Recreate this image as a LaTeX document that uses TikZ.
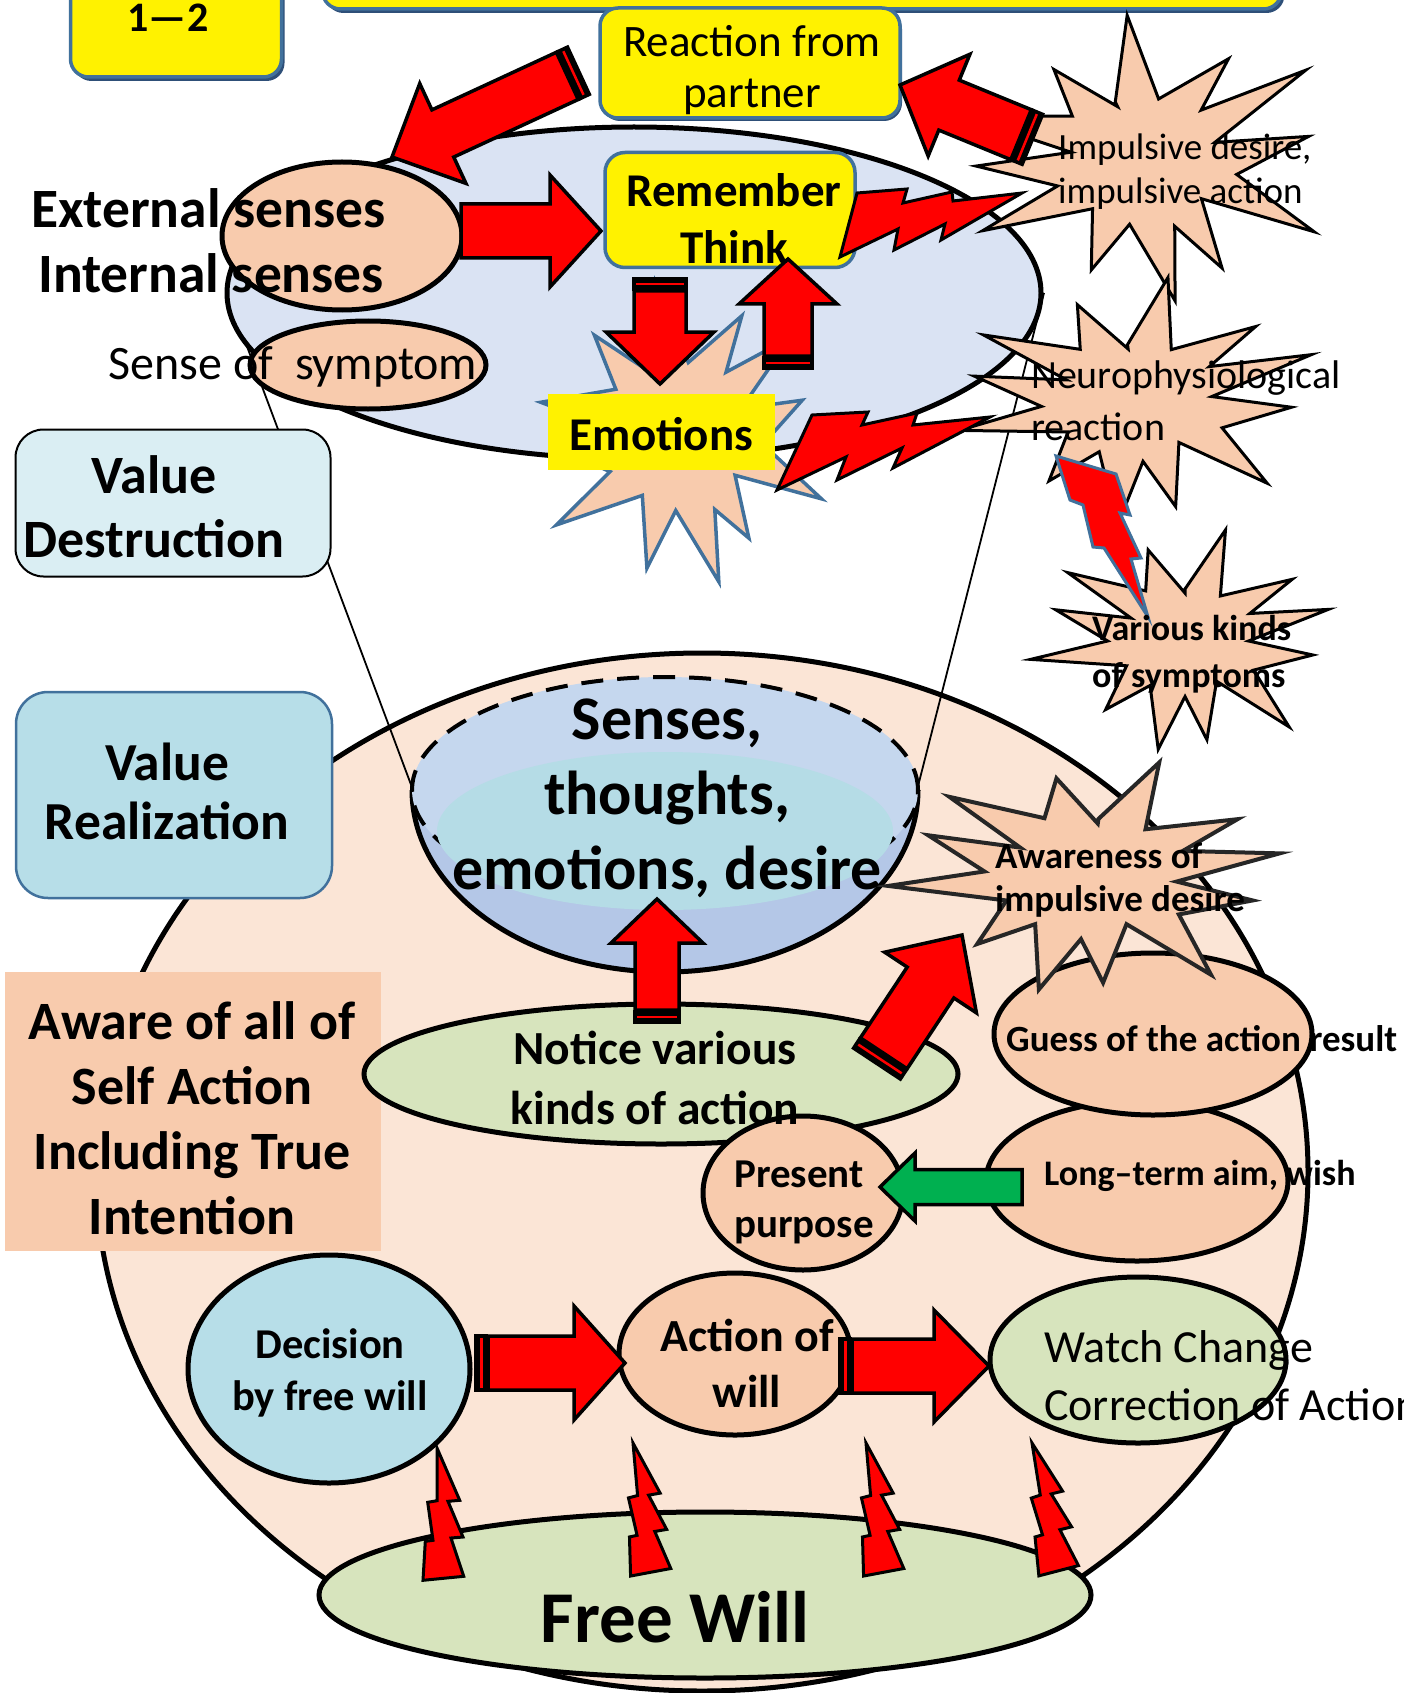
\documentclass[tikz,border=0pt]{standalone}
\usepackage{fontspec}
\setmainfont{Carlito}
\usetikzlibrary{shapes.geometric}

\definecolor{peach}{HTML}{F8CBAD}
\definecolor{lpeach}{HTML}{FBE5D6}
\definecolor{skyfill}{HTML}{DAE3F3}
\definecolor{bordblue}{HTML}{41719C}
\definecolor{shadowblue}{HTML}{2E4F78}
\definecolor{leaf}{HTML}{D7E4BD}
\definecolor{aqua}{HTML}{B7DEE8}
\definecolor{paleaqua}{HTML}{DAEEF3}
\definecolor{bowlc}{HTML}{B4C7E7}
\definecolor{bowltop}{HTML}{C5D7EE}
\definecolor{bowlin}{HTML}{B5DCE6}
\definecolor{grass}{HTML}{00B050}
\definecolor{darkline}{HTML}{262626}

\makeatletter
% length and direction between two named points, in canvas units
\newcommand\ba@setup[2]{%
  \pgfpointdiff{\pgfpointanchor{#1}{center}}{\pgfpointanchor{#2}{center}}%
  \edef\ba@dx{\the\pgf@x}\edef\ba@dy{\the\pgf@y}%
  \pgfmathsetmacro\ba@len{veclen(\ba@dx,\ba@dy)}%
  \pgfmathsetmacro\ba@ang{atan2(\ba@dy,\ba@dx)}}
% plain block arrow: [style]{tail}{tip}{shaft half width}{head half width}{head length}
\newcommand\blockarrow[6][]{%
  \ba@setup{#2}{#3}%
  \begin{scope}[shift={(#2)},rotate=\ba@ang,x=1pt,y=1pt]
    \draw[blockarrow,#1] (0,-#4) -- ({\ba@len-#6},-#4) -- ({\ba@len-#6},-#5) -- (\ba@len,0)
      -- ({\ba@len-#6},#5) -- ({\ba@len-#6},#4) -- (0,#4) -- cycle;
  \end{scope}}
% block arrow with a striped tail
\newcommand\stripearrow[6][]{%
  \ba@setup{#2}{#3}%
  \begin{scope}[shift={(#2)},rotate=\ba@ang,x=1pt,y=1pt]
    \draw[blockarrow,#1] (14,-#4) -- ({\ba@len-#6},-#4) -- ({\ba@len-#6},-#5) -- (\ba@len,0)
      -- ({\ba@len-#6},#5) -- ({\ba@len-#6},#4) -- (14,#4) -- cycle;
    \fill[black] (0,{-#4-1.75}) rectangle (14,{#4+1.75});
    \fill[red] (6,{-#4+2}) rectangle (8.5,{#4-2});
  \end{scope}}
\makeatother

% starburst: {style}{cx}{cy}{rx}{ry}{inner factor}{start angle}{points}{outer factors}
\newcommand\burst[9]{%
  \draw[#1] ({#2+#4*#6*cos(#7-180/#8)},{#3+#5*#6*sin(#7-180/#8)})
    \foreach \rad [count=\kk from 0] in {#9} {
      -- ({#2+#4*\rad*cos(#7+\kk*360/#8+7*sin(\kk*97))},{#3+#5*\rad*sin(#7+\kk*360/#8+7*sin(\kk*97))})
      -- ({#2+#4*#6*(1+0.12*sin(\kk*151))*cos(#7+(\kk+0.5)*360/#8)},{#3+#5*#6*(1+0.12*sin(\kk*151))*sin(#7+(\kk+0.5)*360/#8)})
    } -- cycle;}

\begin{document}
\begin{tikzpicture}[x=1pt,y=-1pt,
  oval/.style={ellipse, draw=black, line width=5pt, inner sep=0pt},
  ybox/.style={rounded corners=18pt, fill=yellow, draw=bordblue, line width=3.5pt, inner sep=0pt},
  yshadow/.style={rounded corners=18pt, fill=shadowblue, inner sep=0pt},
  blockarrow/.style={fill=red, draw=black, line width=3.5pt, line join=miter},
  bolt/.style={fill=red, draw=black, line width=3pt, line join=miter},
  burstline/.style={fill=peach, draw=black, line width=3pt, line join=miter},
  txt/.style={inner sep=0pt, align=center},
  thinline/.style={line width=1.8pt}]

\fill[white] (0,0) rectangle (1426,1693);
\useasboundingbox (0,0) rectangle (1426,1693);

% ---------- lower field ----------
\node[oval, fill=lpeach, minimum width=1212pt, minimum height=1038pt] (whole) at (702,1172) {};

% cone linking the upper oval to the lower bowl
\coordinate (conetl) at (227,293);
\coordinate (conetr) at (1044,293);
\coordinate (conebl) at (413,790);
\coordinate (conebr) at (917,790);
\draw[thinline] (conetl) -- (conebl);
\draw[thinline] (conetr) -- (conebr);

\node[fill=aqua, draw=bordblue, line width=2.5pt, rounded corners=32pt,
      minimum width=316pt, minimum height=206pt, inner sep=0pt] (realbox) at (174,795) {};
\node[fill=peach, minimum width=376pt, minimum height=279pt, inner sep=0pt] (awarebox) at (193,1111) {};

% ---------- upper oval ----------
\node[oval, fill=skyfill, minimum width=814pt, minimum height=332pt] (mind) at (634,293) {};

% title boxes
\node[yshadow, minimum width=211pt, minimum height=120pt] at (179,21) {};
\node[ybox, minimum width=211pt, minimum height=120pt] (numbox) at (176,17) {};
\node[yshadow, minimum width=959pt, minimum height=90pt] at (805,-32) {};
\node[ybox, minimum width=959pt, minimum height=90pt] (titlebox) at (802,-36) {};
\node[yshadow, minimum width=300pt, minimum height=110pt] at (752,66) {};
\node[ybox, minimum width=300pt, minimum height=110pt] (reaction) at (750,63) {};

\node[oval, fill=peach, minimum width=240pt, minimum height=148pt] (senseoval) at (342,236) {};
\node[oval, fill=peach, minimum width=236pt, minimum height=88pt] (sympoval) at (368,365) {};

\coordinate (a1s) at (580,70);  \coordinate (a1e) at (392,157);
\stripearrow{a1s}{a1e}{26}{55}{56}
\coordinate (a2s) at (461,231); \coordinate (a2e) at (601,231);
\blockarrow{a2s}{a2e}{27}{56}{51}

% emotions burst
\burst{burstline, draw=bordblue, line width=3.5pt}{682}{437}{132}{136}{0.55}{-100}{12}{1.15,1.0,1.1,0.95,1.15,0.9,1.1,1.0,1.15,0.9,1.1,1.0}

\node[ybox, rounded corners=20pt, minimum width=250pt, minimum height=115pt] (think) at (730,210) {};
\node[fill=yellow, minimum width=227pt, minimum height=76pt, inner sep=0pt] (emotions) at (661.5,432) {};

\coordinate (a3s) at (660,277); \coordinate (a3e) at (660,384);
\stripearrow{a3s}{a3e}{26}{54}{52}
\coordinate (a4s) at (788,370); \coordinate (a4e) at (788,259);
\stripearrow{a4s}{a4e}{24}{49}{45}

% bursts on the right
\burst{burstline}{1144}{162}{168}{128}{0.5}{-95}{12}{1.15,0.95,1.2,1.0,1.15,0.95,1.1,0.9,1.1,1.0,1.15,0.9}
\burst{burstline}{1135}{401}{165}{109}{0.52}{-80}{12}{1.15,1.0,1.15,0.95,1.1,1.0,1.15,0.9,1.1,1.0,1.1,0.95}
\burst{burstline}{1185}{641}{136}{100}{0.52}{-75}{12}{1.15,1.0,1.1,0.95,1.15,1.0,1.1,0.9,1.15,1.0,1.1,0.95}

\coordinate (a5s) at (1034,140); \coordinate (a5e) at (900,85);
\stripearrow{a5s}{a5e}{27}{55}{53}

% lightning strikes
\draw[bolt] (840,257) -- (857,193) -- (907,189) -- (903,203) -- (952,192) -- (953,201) -- (1022,193)
  -- (941,240) -- (945,224) -- (894,250) -- (898,229) -- cycle;
\draw[bolt] (777,490) -- (812,415) -- (868,412) -- (862,425) -- (917,413) -- (913,425) -- (990,417)
  -- (893,468) -- (902,448) -- (837,480) -- (846,457) -- cycle;
\draw[bolt, draw=bordblue] (1056,456) -- (1116,474) -- (1130,515) -- (1120,513) -- (1141,558) -- (1131,559)
  -- (1148,617) -- (1104,548) -- (1093,547) -- (1083,505) -- (1070,500) -- cycle;

\node[fill=paleaqua, draw=black, line width=2pt, rounded corners=28pt,
      minimum width=315pt, minimum height=147pt, inner sep=0pt] (destbox) at (173,503) {};

% ---------- bowl of senses ----------
\fill[bowlc] (412,790) arc[start angle=180, end angle=360, x radius=253pt, y radius=182pt] -- cycle;
\draw[line width=5pt] (412,790) arc[start angle=180, end angle=360, x radius=253pt, y radius=182pt];
\node[ellipse, fill=bowltop, draw=black, line width=4pt, dash pattern=on 22pt off 14pt,
      minimum width=506pt, minimum height=226pt, inner sep=0pt] (senses) at (665,790) {};
\node[ellipse, fill=bowlin, minimum width=456pt, minimum height=158pt, inner sep=0pt] (sensescore) at (665,831) {};

% ---------- lower ovals ----------
\node[oval, fill=leaf, minimum width=594pt, minimum height=140pt] (notice) at (661,1074) {};
\coordinate (a6s) at (657,1024); \coordinate (a6e) at (657,899);
\stripearrow{a6s}{a6e}{22}{46}{44}

\node[oval, fill=peach, minimum width=302pt, minimum height=160pt] (longterm) at (1137,1181) {};
\node[oval, fill=peach, minimum width=318pt, minimum height=162pt] (guess) at (1153,1034) {};
\burst{burstline, draw=darkline, line width=4pt}{1090}{877}{176}{106}{0.55}{-70}{12}{1.15,1.0,1.1,0.95,1.15,1.0,1.1,0.9,1.15,1.0,1.1,0.95}

\coordinate (a7s) at (876,1065); \coordinate (a7e) at (962,935);
\stripearrow{a7s}{a7e}{28}{55}{57}

\node[oval, fill=peach, minimum width=200pt, minimum height=154pt] (present) at (803,1193) {};
\coordinate (a8s) at (1022,1187); \coordinate (a8e) at (880,1187);
\blockarrow[fill=grass]{a8s}{a8e}{17.5}{34}{35}

\node[oval, fill=aqua, minimum width=282pt, minimum height=228pt] (decision) at (329,1369) {};
\node[oval, fill=peach, minimum width=232pt, minimum height=162pt] (actwill) at (735,1354) {};
\node[oval, fill=leaf, minimum width=296pt, minimum height=166pt] (watch) at (1138,1360) {};
\coordinate (a9s) at (474,1363); \coordinate (a9e) at (625,1363);
\stripearrow{a9s}{a9e}{27}{57}{51}
\coordinate (a10s) at (838,1366); \coordinate (a10e) at (989,1366);
\stripearrow{a10s}{a10e}{27}{56}{55}

\node[oval, fill=leaf, minimum width=772pt, minimum height=166pt] (freewill) at (705,1595) {};

% small strikes rising from free will
\foreach \bx/\by/\ba in {437/1448/0, 633/1443/5, 866/1443/5, 1032/1443/9}{
  \begin{scope}[shift={(\bx,\by)}, rotate=\ba]
    \draw[bolt] (0,0) -- (22.7,52.3) -- (11,53.3) -- (26,89) -- (14,90) -- (26.7,128.3)
      -- (-14,132.3) -- (-11.7,93.3) -- (-4,92.3) -- (-9.3,54.3) -- (0,52.7) -- cycle;
  \end{scope}}

% ---------- labels ----------
\node[txt, font=\bfseries\fontsize{42}{50}\selectfont] (numlbl) at (168,18) {1—2};
\node[txt, font=\fontsize{45}{51}\selectfont] (reactlbl) at (752,70) {Reaction from\\partner};
\node[txt, font=\bfseries\fontsize{47}{57}\selectfont] (thinklbl) at (734,219) {Remember\\Think};
\node[txt, font=\bfseries\fontsize{47}{54}\selectfont] (emolbl) at (661.5,434) {Emotions};
\node[txt, anchor=west, font=\bfseries\fontsize{55.5}{60}\selectfont] (extlbl) at (31,208) {External senses};
\node[txt, anchor=west, font=\bfseries\fontsize{55.5}{60}\selectfont] (intlbl) at (38,273) {Internal senses};
\node[txt, font=\fontsize{48}{54}\selectfont] (symplbl) at (293,367) {Sense of\ \ symptom};
\node[txt, anchor=west, align=left, font=\fontsize{37}{44}\selectfont] (implbl) at (1058,172) {Impulsive desire,\\impulsive action};
\node[txt, anchor=west, align=left, font=\fontsize{40}{52}\selectfont] (neurolbl) at (1031,401) {Neurophysiological\\reaction};
\node[txt, anchor=west, align=left, font=\bfseries\fontsize{36}{47}\selectfont] (symlbl) at (1092,654) {Various kinds\\of symptoms};
\node[txt, font=\bfseries\fontsize{54}{64}\selectfont] (destlbl) at (154,507) {Value\\Destruction};
\node[txt, font=\bfseries\fontsize{53.5}{59}\selectfont] (reallbl) at (167,791) {Value\\Realization};
\node[txt, font=\bfseries\fontsize{54}{65}\selectfont] (awarelbl) at (192,1118) {Aware of all of\\Self Action\\Including True\\Intention};
\node[txt, font=\bfseries\fontsize{62}{75}\selectfont] (senseslbl) at (667,798) {Senses,\\thoughts,\\emotions, desire};
\node[txt, font=\bfseries\fontsize{47.5}{60}\selectfont] (noticelbl) at (655,1078) {Notice various\\kinds of action};
\node[txt, anchor=west, align=left, font=\bfseries\fontsize{37}{43}\selectfont] (awarelbl2) at (995,880) {Awareness of\\impulsive desire};
\node[txt, anchor=west, font=\bfseries\fontsize{37}{42}\selectfont] (guesslbl) at (1006,1039) {Guess of the action result};
\node[txt, anchor=west, font=\bfseries\fontsize{36}{42}\selectfont] (longlbl) at (1044,1176) {Long–term aim, wish};
\node[txt, anchor=west, align=left, font=\bfseries\fontsize{41}{50}\selectfont] (presentlbl) at (734,1202) {Present\\purpose};
\node[txt, font=\bfseries\fontsize{42.5}{52}\selectfont] (decisionlbl) at (330,1373) {Decision\\by free will};
\node[txt, font=\bfseries\fontsize{46}{56}\selectfont] (actlbl) at (747,1363) {Action of\\will};
\begin{scope}
  \clip (0,0) rectangle (1403,1693);
  \node[txt, anchor=west, align=left, font=\fontsize{46}{58}\selectfont] (watchlbl) at (1044,1376) {Watch Change\\Correction of Action};
\end{scope}
\node[txt, font=\bfseries\fontsize{73}{80}\selectfont] (freelbl) at (675,1617) {Free Will};

\end{tikzpicture}
\end{document}
